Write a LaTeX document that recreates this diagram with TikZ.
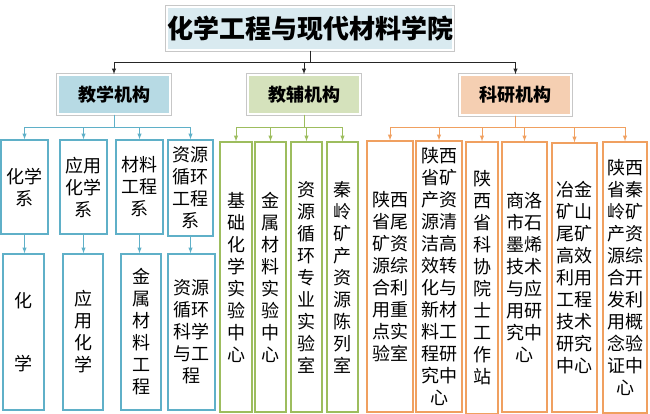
\documentclass[tikz,border=0pt]{standalone}
\usepackage{fontspec}
\setmainfont{Noto Sans CJK SC}
\definecolor{jxline}{HTML}{5FB0C8}
\definecolor{jfline}{HTML}{9DBD5E}
\definecolor{kyline}{HTML}{F0A060}
\definecolor{jxfill}{HTML}{B7DAE4}
\definecolor{jffill}{HTML}{D5E2BC}
\definecolor{kyfill}{HTML}{F5CFB2}
\definecolor{titlefill}{HTML}{D9EAF0}
\tikzset{
	box/.style={draw, line width=1.3pt, inner sep=0pt, align=center,
		font=\fontsize{18}{22}\selectfont},
	jxbox/.style={box, draw=jxline},
	jfbox/.style={box, draw=jfline},
	kybox/.style={box, draw=kyline},
	head/.style={draw=white, line width=1.6pt, inner sep=0pt,
		preaction={draw=black!22, line width=3.2pt},
		font=\fontsize{18}{22}\selectfont\bfseries},
}
\begin{document}
\begin{tikzpicture}[x=1pt, y=-1pt]
		\useasboundingbox (0,0) rectangle (650,414);

		%% title and heads
		\node[head, fill=titlefill, minimum width=286, minimum height=43,
			font=\fontsize{26}{30}\selectfont\bfseries] at (310,28.5)(title){化学工程与现代材料学院};

		\node[head, fill=jxfill, minimum width=112, minimum height=39] at (114,94.5)(jx){教学机构};
		\node[head, fill=jffill, minimum width=112, minimum height=39] at (304,94.5)(jf){教辅机构};
		\node[head, fill=kyfill, minimum width=111, minimum height=40] at (515.5,95)(ky){科研机构};

		\coordinate (tbus) at ([yshift=-12pt]title.south);
		\foreach \h in {jx,jf,ky}
			\draw[-latex, line width=0.9pt, black!85] (title.south)--(tbus)-|(\h.north);


		%% jx
		\node[jxbox, minimum width=47, minimum height=94] at (24.5,187)(t1){化学\\系};
		\node[jxbox, minimum width=47, minimum height=94] at (83.5,187)(t2){应用\\化学\\系};
		\node[jxbox, minimum width=47, minimum height=94] at (139.5,187)(t3){材料\\工程\\系};
		\node[jxbox, minimum width=45, minimum height=96] at (190.5,188)(t4){资源\\循环\\工程\\系};

		\node[jxbox, minimum width=41, minimum height=156] at (23.5,332)(m1){化\\[41pt]学};
		\node[jxbox, minimum width=40, minimum height=156] at (83,332)(m2){应\\用\\化\\学};
		\node[jxbox, minimum width=40, minimum height=156] at (141,332)(m3){金\\属\\材\\料\\工\\程};
		\node[jxbox, minimum width=47, minimum height=156] at (191.5,332)(m4){资源\\循环\\科学\\与工\\程};

		\coordinate (jxbus) at ([yshift=-13pt]jx.south);
		\foreach \c in {t1,t2,t3,t4}
			\draw[-latex, line width=1pt, jxline] (jx.south)--(jxbus)-|(\c.north);
		\foreach \a/\b in {t1/m1,t2/m2,t3/m3,t4/m4}
			\draw[-latex, line width=1pt, jxline] (\a.south)--(\a.south|-\b.north);


		%% jf
		\node[jfbox, minimum width=32, minimum height=270] at (236,277)(f1){基\\础\\化\\学\\实\\验\\中\\心};
		\node[jfbox, minimum width=31, minimum height=270] at (270.5,277)(f2){金\\属\\材\\料\\实\\验\\中\\心};
		\node[jfbox, minimum width=31, minimum height=270] at (306.5,277)(f3){资\\源\\循\\环\\专\\业\\实\\验\\室};
		\node[jfbox, minimum width=31, minimum height=270] at (342.5,277)(f4){秦\\岭\\矿\\产\\资\\源\\陈\\列\\室};

		\coordinate (jfbus) at ([yshift=-13pt]jf.south);
		\foreach \c in {f1,f2,f3,f4}
			\draw[-latex, line width=1pt, jfline] (jf.south)--(jfbus)-|(\c.north);


		%% ky
		\node[kybox, minimum width=46, minimum height=271] at (390,276.5)(r1){陕西\\省尾\\矿资\\源综\\合利\\用重\\点实\\验室};
		\node[kybox, minimum width=46, minimum height=271] at (439,276.5)(r2){陕西\\省矿\\产资\\源清\\洁高\\效转\\化与\\新材\\料工\\程研\\究中\\心};
		\node[kybox, minimum width=32, minimum height=272] at (482,278)(r3){陕\\西\\省\\科\\协\\院\\士\\工\\作\\站};
		\node[kybox, minimum width=45, minimum height=270] at (524.5,277)(r4){商洛\\市石\\墨烯\\技术\\与应\\用研\\究中\\心};
		\node[kybox, minimum width=45, minimum height=269] at (574.5,277.5)(r5){冶金\\矿山\\尾矿\\高效\\利用\\工程\\技术\\研究\\中心};
		\node[kybox, minimum width=44, minimum height=271] at (625,277.5)(r6){陕西\\省秦\\岭矿\\产资\\源综\\合开\\发利\\用概\\念验\\证中\\心};

		\coordinate (kybus) at ([yshift=-12pt]ky.south);
		\foreach \c in {r1,r2,r3,r4,r5,r6}
			\draw[-latex, line width=1pt, kyline] (ky.south)--(kybus)-|(\c.north);
	\end{tikzpicture}
\end{document}
